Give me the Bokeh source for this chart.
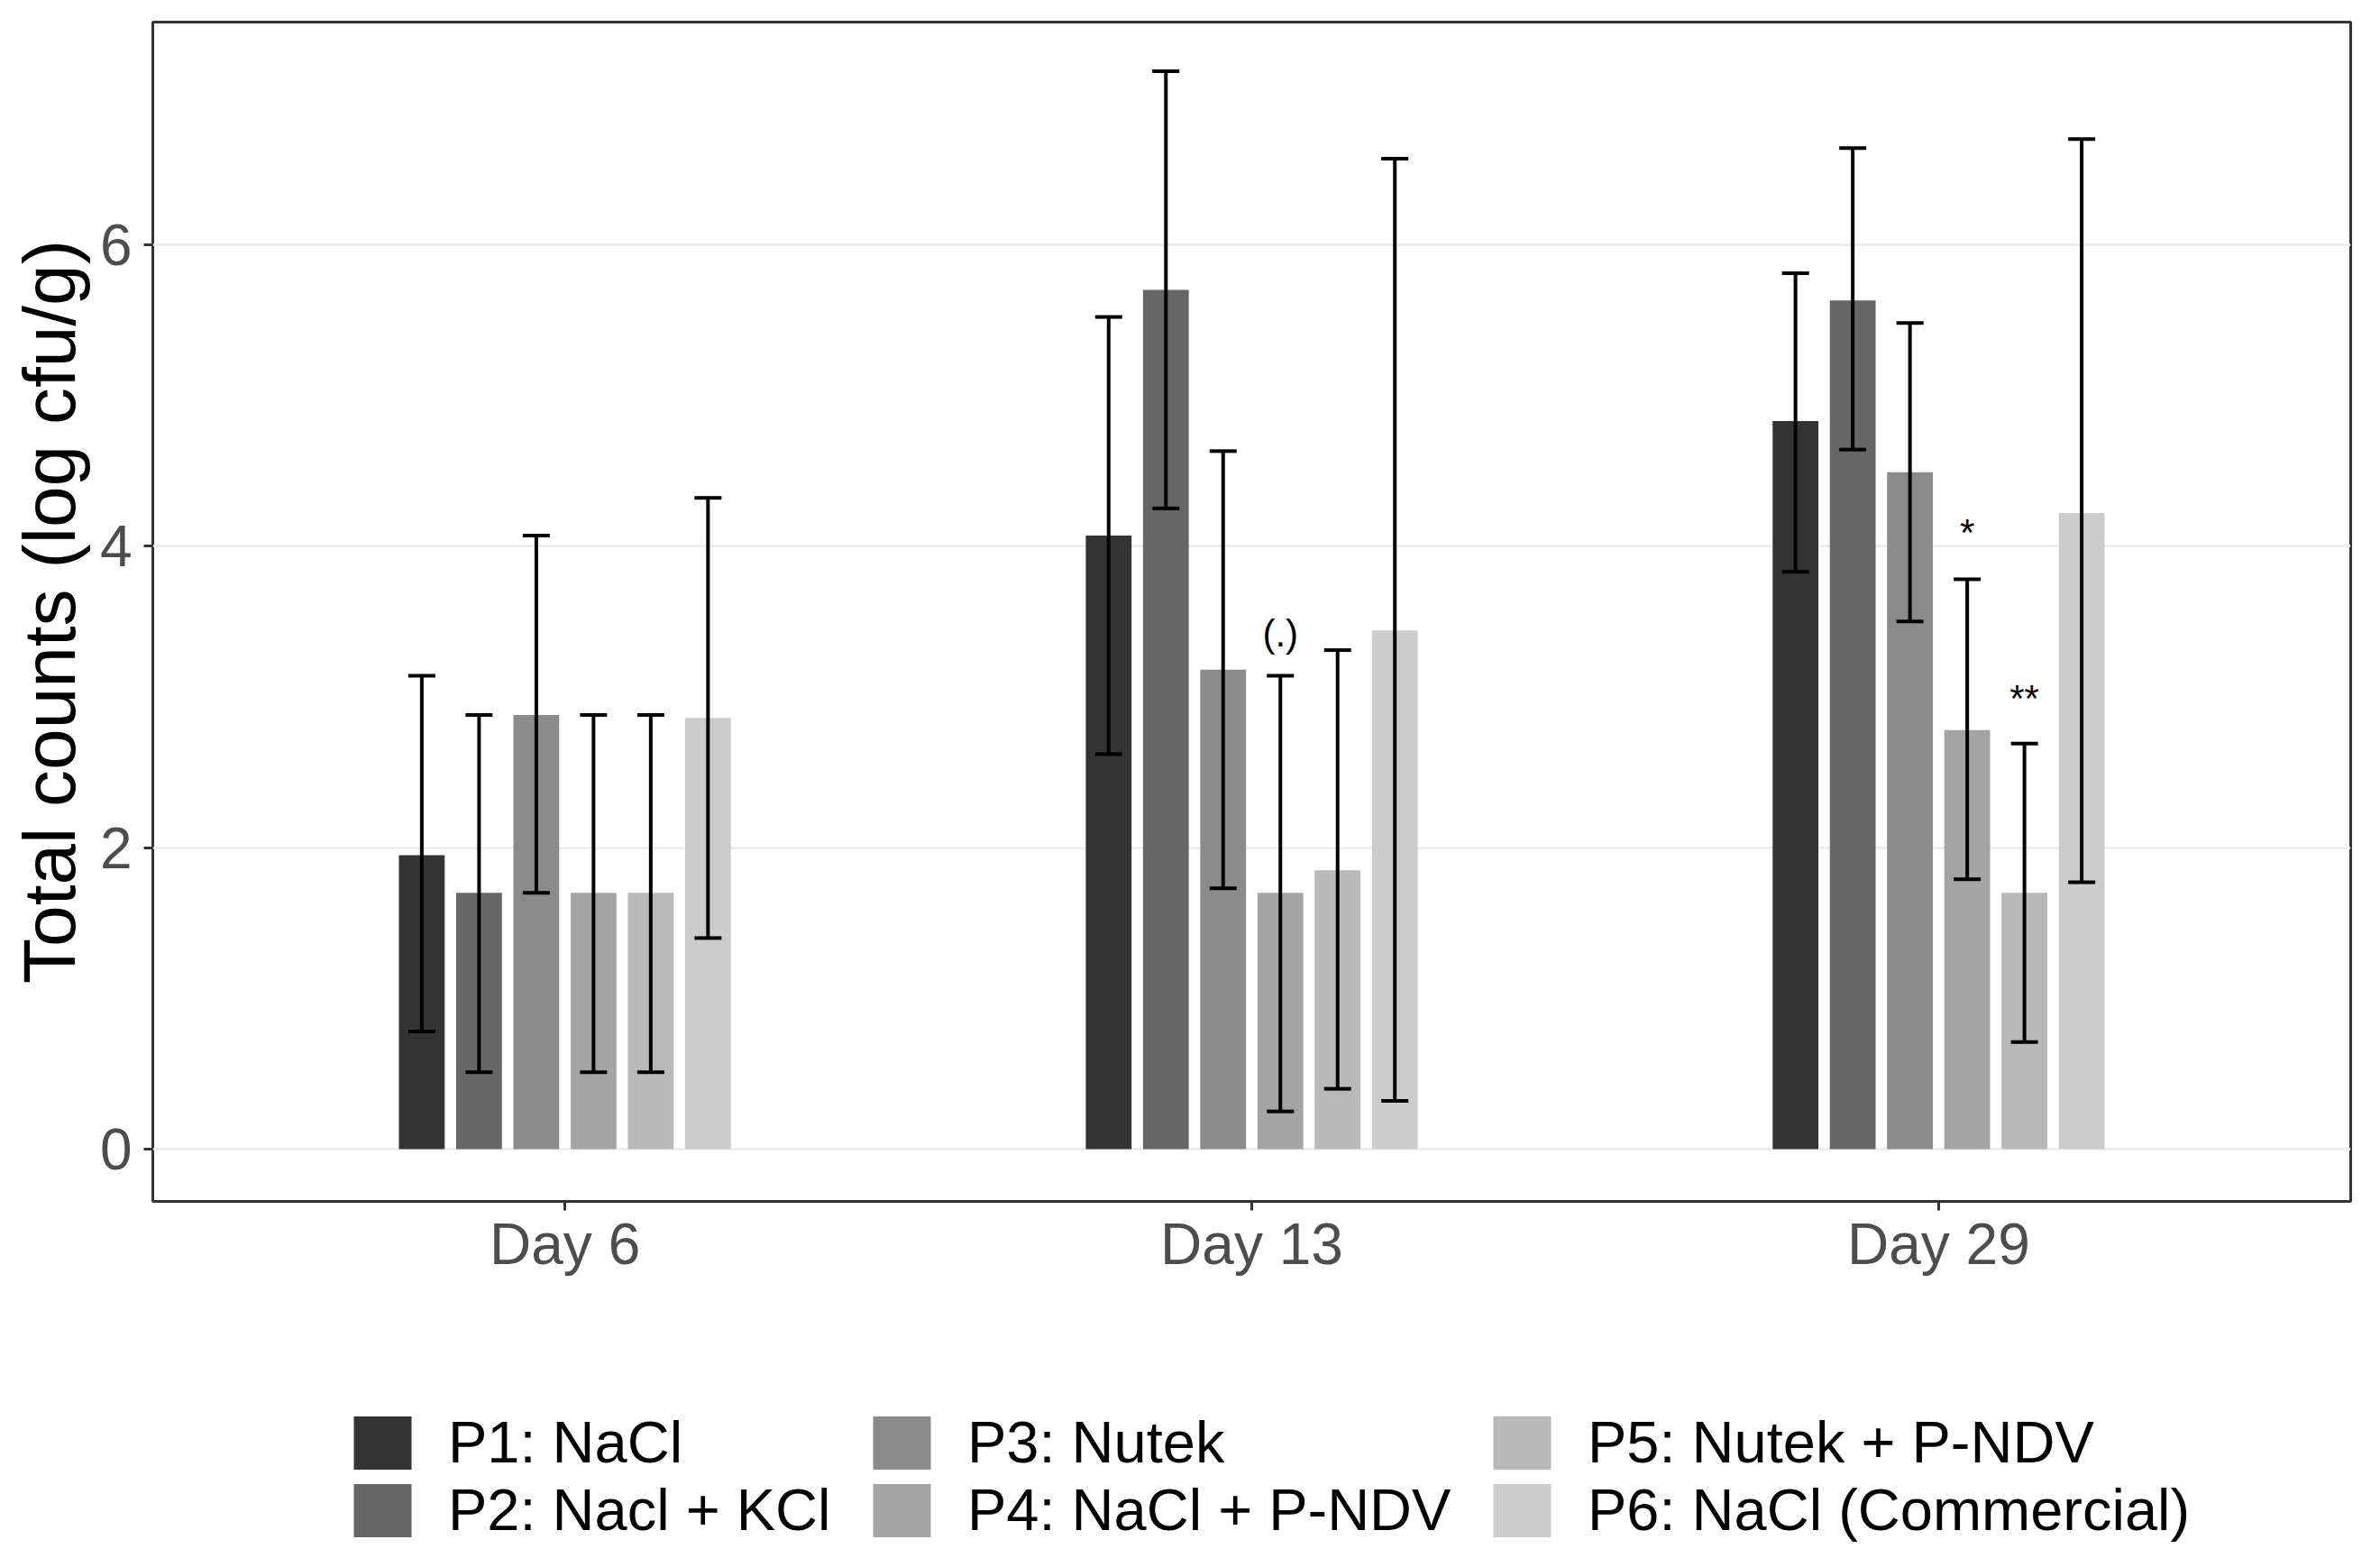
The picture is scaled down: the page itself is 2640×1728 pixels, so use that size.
from bokeh.plotting import figure
from bokeh.layouts import column
from bokeh.models import (ColumnDataSource, Whisker, TeeHead, Legend, LegendItem,
                          FixedTicker, Range1d)
from bokeh.transform import dodge
from bokeh.core.properties import value
from bokeh.embed import file_html
from bokeh.resources import INLINE

# ---------------- data ----------------
days = ["Day 6", "Day 13", "Day 29"]
day_pos = [1, 2, 3]
products = ["P1: NaCl", "P2: Nacl + KCl", "P3: Nutek", "P4: NaCl + P-NDV",
            "P5: Nutek + P-NDV", "P6: NaCl (Commercial)"]
colors = ["#333333", "#666666", "#8B8B8B", "#A4A4A4", "#B9B9B9", "#CCCCCC"]

p1_mean = [1.95, 4.07, 4.83]
p2_mean = [1.70, 5.70, 5.63]
p3_mean = [2.88, 3.18, 4.49]
p4_mean = [1.70, 1.70, 2.78]
p5_mean = [1.70, 1.85, 1.70]
p6_mean = [2.86, 3.44, 4.22]

p1_low = [0.78, 2.62, 3.83]
p2_low = [0.51, 4.25, 4.64]
p3_low = [1.70, 1.73, 3.50]
p4_low = [0.51, 0.25, 1.79]
p5_low = [0.51, 0.40, 0.71]
p6_low = [1.40, 0.32, 1.77]

p1_up = [3.14, 5.52, 5.81]
p2_up = [2.88, 7.15, 6.64]
p3_up = [4.07, 4.63, 5.48]
p4_up = [2.88, 3.14, 3.78]
p5_up = [2.88, 3.31, 2.69]
p6_up = [4.32, 6.57, 6.70]

y_ticks = [0, 2, 4, 6]

# significance marks: day position, product index, text, y
ann_day = [2, 3, 3]
ann_prod = [3, 3, 4]
ann_text = ["(.)", "*", "**"]
ann_y = [3.42, 4.09, 2.99]

means = [p1_mean, p2_mean, p3_mean, p4_mean, p5_mean, p6_mean]
lows = [p1_low, p2_low, p3_low, p4_low, p5_low, p6_low]
ups = [p1_up, p2_up, p3_up, p4_up, p5_up, p6_up]

# ---------------- layout constants ----------------
DODGE_W = 0.5
n = len(products)
slot = DODGE_W / n
BAR_W = 0.4 / n
offsets = [(i - (n - 1) / 2) * slot for i in range(n)]

FONT = "Liberation Sans"

p = figure(title=None, frame_width=2438, frame_height=1308,
           min_border_left=169, min_border_right=33, min_border_top=24,
           min_border_bottom=120,
           x_range=Range1d(0.4, 3.6), y_range=Range1d(-0.347, 7.476),
           output_backend="svg", toolbar_location=None,
           background_fill_color="white", border_fill_color="white")

p.outline_line_color = "#333333"
p.outline_line_width = 3

p.xgrid.grid_line_color = None
p.ygrid.grid_line_color = "#EBEBEB"
p.ygrid.grid_line_width = 2.5
p.ygrid.ticker = FixedTicker(ticks=y_ticks)

p.yaxis.ticker = FixedTicker(ticks=y_ticks)
p.xaxis.ticker = FixedTicker(ticks=day_pos)
p.xaxis.major_label_overrides = {pos: lab for pos, lab in zip(day_pos, days)}

for ax in (p.xaxis[0], p.yaxis[0]):
    ax.axis_line_color = None
    ax.major_tick_line_color = "#333333"
    ax.major_tick_line_width = 3
    ax.major_tick_out = 10
    ax.major_tick_in = 0
    ax.minor_tick_line_color = None
    ax.major_label_text_font = FONT
    ax.major_label_text_font_size = "64px"
    ax.major_label_text_color = "#4D4D4D"
p.xaxis.major_label_standoff = 1
p.yaxis.major_label_standoff = 13

p.yaxis.axis_label = "Total counts (log cfu/g)"
p.yaxis.axis_label_text_font = FONT
p.yaxis.axis_label_text_font_size = "82px"
p.yaxis.axis_label_text_font_style = "normal"
p.yaxis.axis_label_text_color = "black"
p.yaxis.axis_label_standoff = 8

for i in range(n):
    src = ColumnDataSource(dict(x=day_pos, top=means[i], lower=lows[i], upper=ups[i]))
    p.vbar(x=dodge("x", offsets[i]), top="top", bottom=0, width=BAR_W,
           source=src, fill_color=colors[i], line_color=None)
    w = Whisker(source=src, base=dodge("x", offsets[i]), lower="lower", upper="upper",
                line_color="black", line_width=4, level="overlay",
                upper_head=TeeHead(size=30, line_width=4, line_color="black"),
                lower_head=TeeHead(size=30, line_width=4, line_color="black"))
    p.add_layout(w)

ann_x = [d + offsets[k] for d, k in zip(ann_day, ann_prod)]
ann_src = ColumnDataSource(dict(x=ann_x, y=ann_y, text=ann_text))
p.text(x="x", y="y", text="text", source=ann_src, text_align="center",
       text_baseline="middle", text_font=value(FONT), text_font_size="42px",
       text_color="black")

# ---------------- legend strip (separate figure below) ----------------
LEG_H = 276
lf = figure(title=None, width=2640, height=LEG_H, min_border=0,
            x_range=Range1d(100, 101), y_range=Range1d(100, 101),
            x_axis_location=None, y_axis_location=None,
            output_backend="svg", toolbar_location=None,
            background_fill_color="white", border_fill_color="white")
lf.outline_line_color = None
lf.xgrid.grid_line_color = None
lf.ygrid.grid_line_color = None

# same bars, far outside this strip's view; used only as legend keys
key_renderers = []
for i in range(n):
    ks = ColumnDataSource(dict(x=day_pos, top=means[i]))
    key_renderers.append(lf.vbar(x=dodge("x", offsets[i]), top="top", bottom=0,
                                 width=BAR_W, source=ks,
                                 fill_color=colors[i], line_color=None))

col_x = [215, 791, 1479]
for c in range(3):
    items = [LegendItem(label=products[2 * c + j], renderers=[key_renderers[2 * c + j]])
             for j in range(2)]
    leg = Legend(items=items, orientation="vertical", location=(col_x[c], 16),
                 glyph_width=80, glyph_height=74, spacing=0, label_standoff=33,
                 padding=0, margin=0, border_line_color=None,
                 background_fill_alpha=0,
                 label_text_font=FONT, label_text_font_size="65px",
                 label_text_line_height=1.0,
                 label_text_color="black")
    lf.add_layout(leg, "center")

layout = column(p, lf, spacing=0)
open("out.html", "w").write(file_html(layout, INLINE))
